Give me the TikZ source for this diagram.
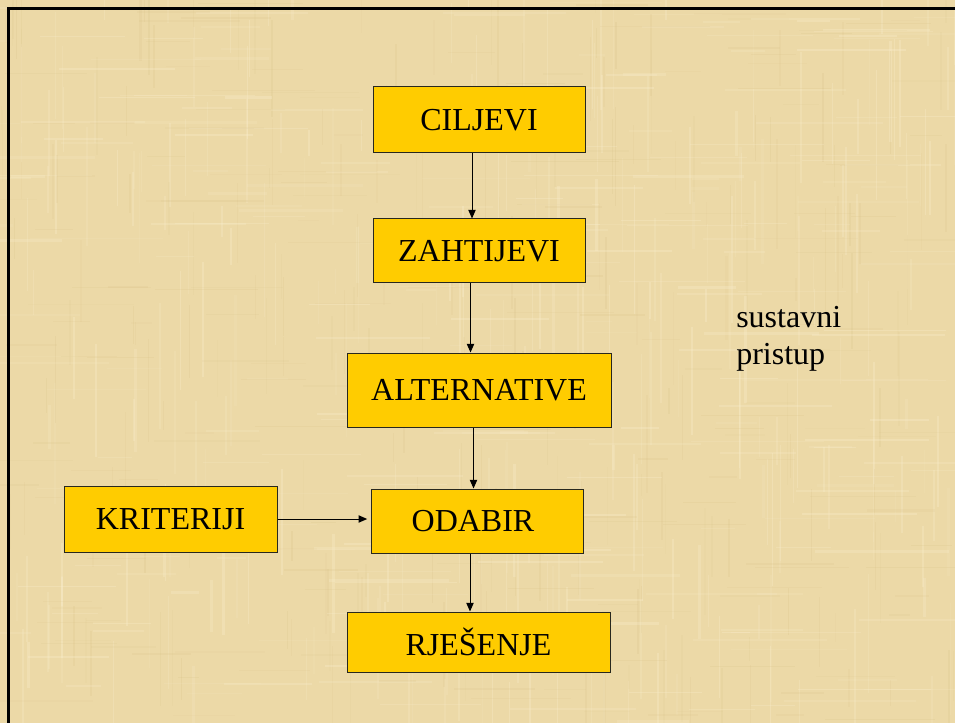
\documentclass[tikz,border=0pt]{standalone}
\usepackage{fontspec}
\setmainfont{Liberation Serif}
\usetikzlibrary{arrows.meta}

\definecolor{paper}{RGB}{236,217,167}
\definecolor{paperlight}{RGB}{250,238,205}
\definecolor{paperdark}{RGB}{210,186,125}
\definecolor{boxfill}{RGB}{255,204,0}
\definecolor{boxline}{RGB}{40,40,30}

\tikzset{
  stepbox/.style={draw=boxline, line width=0.75pt, fill=boxfill, inner sep=0pt,
    font=\fontsize{24pt}{27.6pt}\selectfont, text=black},
  flow/.style={draw=black, line width=0.75pt,
    -{Triangle[length=6.5pt,width=5.5pt]}},
  caption/.style={font=\fontsize{24pt}{27.6pt}\selectfont, text=black,
    inner sep=0pt, align=left}
}

\begin{document}
\begin{tikzpicture}[x=0.75pt, y=-0.75pt]
  % page area and parchment background
  \useasboundingbox (0,0) rectangle (955,723);
  \fill[paper] (0,0) rectangle (955,723);
  \pgfmathsetseed{17}
  % woven fibres: short vertical strands
  \foreach \i in {1,...,260}{
    \pgfmathsetmacro{\xx}{955*rnd}
    \pgfmathsetmacro{\yy}{723*rnd-40}
    \pgfmathsetmacro{\ww}{0.6+2*rnd}
    \pgfmathsetmacro{\hh}{25+110*rnd}
    \pgfmathsetmacro{\op}{0.10+0.22*rnd}
    \fill[paperlight, opacity=\op] (\xx,\yy) rectangle ++(\ww,\hh);
  }
  \foreach \i in {1,...,200}{
    \pgfmathsetmacro{\xx}{955*rnd}
    \pgfmathsetmacro{\yy}{723*rnd-40}
    \pgfmathsetmacro{\ww}{0.6+1.6*rnd}
    \pgfmathsetmacro{\hh}{20+90*rnd}
    \pgfmathsetmacro{\op}{0.05+0.12*rnd}
    \fill[paperdark, opacity=\op] (\xx,\yy) rectangle ++(\ww,\hh);
  }
  % short horizontal strands
  \foreach \i in {1,...,240}{
    \pgfmathsetmacro{\xx}{955*rnd-40}
    \pgfmathsetmacro{\yy}{723*rnd}
    \pgfmathsetmacro{\ww}{25+110*rnd}
    \pgfmathsetmacro{\hh}{0.6+2*rnd}
    \pgfmathsetmacro{\op}{0.10+0.22*rnd}
    \fill[paperlight, opacity=\op] (\xx,\yy) rectangle ++(\ww,\hh);
  }
  \foreach \i in {1,...,180}{
    \pgfmathsetmacro{\xx}{955*rnd-40}
    \pgfmathsetmacro{\yy}{723*rnd}
    \pgfmathsetmacro{\ww}{20+90*rnd}
    \pgfmathsetmacro{\hh}{0.6+1.6*rnd}
    \pgfmathsetmacro{\op}{0.05+0.11*rnd}
    \fill[paperdark, opacity=\op] (\xx,\yy) rectangle ++(\ww,\hh);
  }
  % frame on the left and top
  \draw[line width=2.5pt] (8.5,723) -- (8.5,8.5) -- (955,8.5);

  % process boxes
  \node[stepbox, minimum width=159pt, minimum height=49.5pt] (cilj) at (479,120) {CILJEVI};
  \node[stepbox, minimum width=159pt, minimum height=48pt] (zaht) at (479,251) {ZAHTIJEVI};
  \node[stepbox, minimum width=198pt, minimum height=55.5pt] (alt) at (479,390) {ALTERNATIVE};
  \node[stepbox, minimum width=159.75pt, minimum height=49.5pt] (krit) at (170.5,519) {KRITERIJI};
  \node[stepbox, minimum width=159pt, minimum height=48pt, text width=159pt, align=center] (odab) at (477,521) {ODABIR\hspace*{6pt}};
  \node[stepbox, minimum width=197.25pt, minimum height=45pt] (rjes) at (478.5,642) {RJEŠENJE};

  % side note
  \node[caption, anchor=north west] (note) at (736,306) {sustavni\\pristup};

  % connector columns
  \coordinate (c1) at (472,0);
  \coordinate (c2) at (470.5,0);
  \coordinate (c3) at (473.5,0);
  \coordinate (c4) at (470,0);

  \draw[flow] (cilj.south -| c1) -- (zaht.north -| c1);
  \draw[flow] (zaht.south -| c2) -- (alt.north -| c2);
  \draw[flow] (alt.south -| c3) -- (odab.north -| c3);
  \draw[flow] (odab.south -| c4) -- (rjes.north -| c4);
  \draw[flow, shorten >=2.5pt] (krit.east) -- (odab.west |- krit.east);
\end{tikzpicture}
\end{document}
